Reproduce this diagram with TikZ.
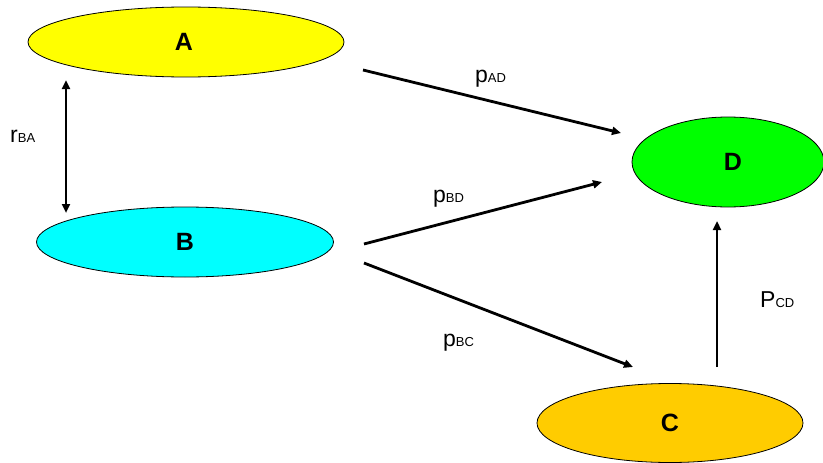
\documentclass[tikz,border=0pt]{standalone}
\usepackage{fontspec}
\setmainfont{Liberation Sans}
\usetikzlibrary{shapes.geometric,arrows.meta}
\definecolor{cA}{RGB}{255,255,0}
\definecolor{cB}{RGB}{0,255,255}
\definecolor{cD}{RGB}{0,255,0}
\definecolor{cC}{RGB}{255,204,0}
\newcommand{\sbs}[1]{{\fontsize{13}{13}\selectfont #1}}
\begin{document}
\begin{tikzpicture}[x=1pt,y=-1pt,
  ell/.style={ellipse,draw=black,line width=0.8pt,inner sep=0pt},
  lbl/.style={font=\bfseries\fontsize{25}{25}\selectfont},
  conn/.style={line width=2.8pt,-{Triangle[length=9pt,width=8pt]}},
  plbl/.style={anchor=base west,inner sep=0pt,font=\fontsize{23}{23}\selectfont}]
\useasboundingbox (0,0) rectangle (823,463);
\fill[white] (0,0) rectangle (823,463);
\node[ell,fill=cA,minimum width=316pt,minimum height=70pt] (A) at (186,42) {};
\node[ell,fill=cB,minimum width=297pt,minimum height=70pt] (B) at (185,242) {};
\node[ell,fill=cD,minimum width=192pt,minimum height=90pt] (D) at (728,162) {};
\node[ell,fill=cC,minimum width=266pt,minimum height=79pt] (C) at (670,423) {};
\node[lbl] (tA) at (184,42) {A};
\node[lbl] (tB) at (185,242) {B};
\node[lbl] (tD) at (733,162) {D};
\node[lbl] (tC) at (670,423) {C};
\coordinate (ab1) at (66,80);
\coordinate (ab2) at (66,213);
\coordinate (ad1) at (363,70);
\coordinate (ad2) at (621,133);
\coordinate (bd1) at (364,244);
\coordinate (bd2) at (602,182);
\coordinate (bc1) at (364,263);
\coordinate (bc2) at (633,367);
\coordinate (cd1) at (717,367);
\coordinate (cd2) at (717,221);
\draw[conn,{Triangle[length=9pt,width=8pt]}-{Triangle[length=9pt,width=8pt]}] (ab1) -- (ab2);
\draw[conn] (ad1) -- (ad2);
\draw[conn] (bd1) -- (bd2);
\draw[conn] (bc1) -- (bc2);
\draw[conn] (cd1) -- (cd2);
\node[plbl] (rBA) at (10,142) {r\sbs{BA}};
\node[plbl] (pAD) at (475,82) {p\sbs{AD}};
\node[plbl] (pBD) at (433,202) {p\sbs{BD}};
\node[plbl] (pBC) at (443,346) {p\sbs{BC}};
\node[plbl] (PCD) at (760,307) {P\sbs{CD}};
\end{tikzpicture}
\end{document}
